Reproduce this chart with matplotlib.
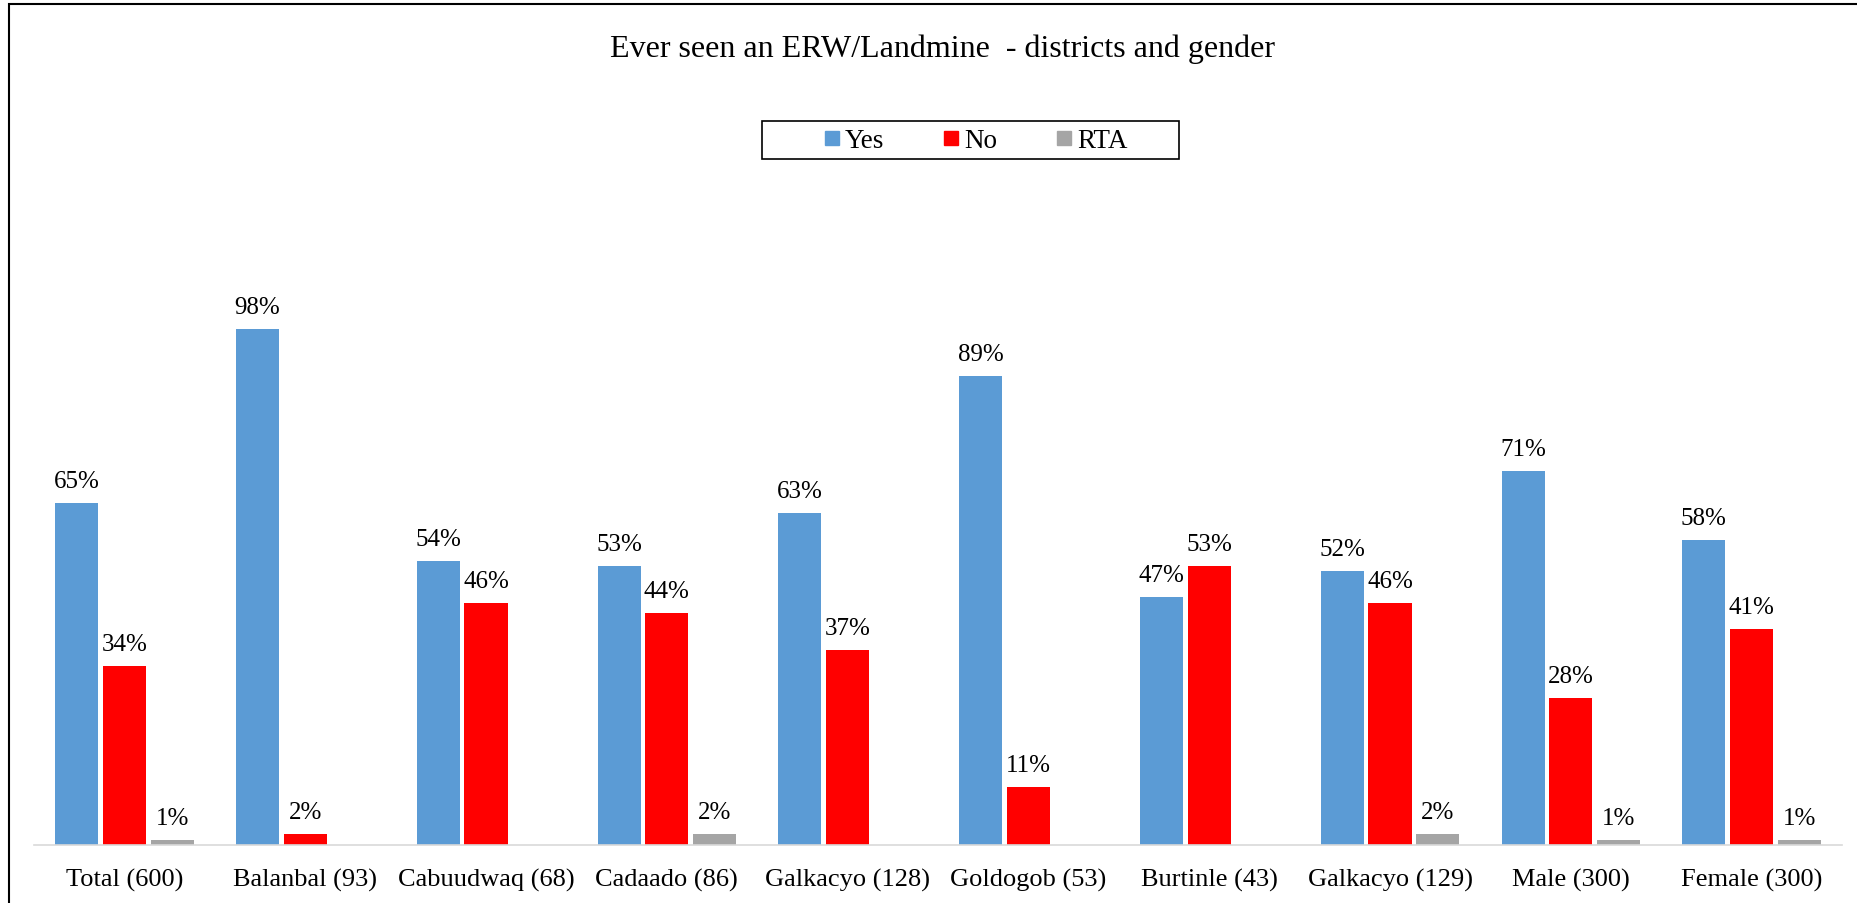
import matplotlib
matplotlib.use("Agg")
import matplotlib.pyplot as plt
from matplotlib.lines import Line2D
from matplotlib.patches import Rectangle
import numpy as np

# Survey results: share of respondents who have ever seen an ERW/landmine
categories = ["Total (600)", "Balanbal (93)", "Cabuudwaq (68)", "Cadaado (86)",
              "Galkacyo (128)", "Goldogob (53)", "Burtinle (43)", "Galkacyo (129)",
              "Male (300)", "Female (300)"]
yes_pct = [65, 98, 54, 53, 63, 89, 47, 52, 71, 58]
no_pct = [34, 2, 46, 44, 37, 11, 53, 46, 28, 41]
rta_pct = [1, 0, 0, 2, 0, 0, 0, 2, 1, 1]

series_names = ["Yes", "No", "RTA"]
series_values = [yes_pct, no_pct, rta_pct]
series_colors = ["#5B9BD5", "#FF0000", "#A5A5A5"]

plt.rcParams["font.family"] = ["Liberation Serif", "DejaVu Serif"]

W, H = 1858, 904
fig = plt.figure(figsize=(W / 100, H / 100), dpi=100)

# plot area in pixel terms
left_px, right_px = 34, 1842
base_px, top_px = 846, 214
ax = fig.add_axes([left_px / W, 1 - base_px / H,
                   (right_px - left_px) / W, (base_px - top_px) / H])

x = np.arange(len(categories))
bar_w = 0.238
step = 0.264
offsets = [-step, 0, step]

for name, vals, color, off in zip(series_names, series_values, series_colors, offsets):
    vals = np.asarray(vals, dtype=float)
    ax.bar(x + off, vals, width=bar_w, color=color, linewidth=0, label=name)
    for xi, v in zip(x + off, vals):
        if v > 0:
            ax.annotate(f"{int(v)}%", xy=(xi, v), xytext=(0, 11.5),
                        textcoords="offset points", ha="center", va="baseline",
                        fontsize=18, color="black")

ax.set_xlim(-0.5, len(categories) - 0.5)
ax.set_ylim(0, 120)
ax.set_xticks(x)
ax.set_xticklabels(categories, fontsize=19)
ax.tick_params(axis="x", length=0, pad=16.5)
ax.set_yticks([])
for side in ["left", "right", "top"]:
    ax.spines[side].set_visible(False)
ax.spines["bottom"].set_color("#D9D9D9")
ax.spines["bottom"].set_linewidth(1.2)

# title
fig.text(943 / W, 1 - 57 / H, "Ever seen an ERW/Landmine  - districts and gender",
         ha="center", va="baseline", fontsize=23)

# legend (entries) with its own box
handles = [Line2D([], [], marker="s", linestyle="none", markersize=10,
                  markerfacecolor=c, markeredgecolor=c, label=n)
           for n, c in zip(series_names, series_colors)]
leg = fig.legend(handles=handles, loc="center", bbox_to_anchor=(975 / W, 1 - 142 / H),
                 ncol=3, fontsize=19.5, frameon=False,
                 handlelength=0.74, handletextpad=0.11, columnspacing=2.1,
                 borderpad=0, borderaxespad=0)
fig.patches.append(Rectangle((762 / W, 1 - 160 / H), (1179 - 762) / W, 38 / H,
                             transform=fig.transFigure, fill=False,
                             edgecolor="black", linewidth=1.2))

# chart frame
fig.patches.append(Rectangle((9 / W, -0.05), 1.2, 1 - 4.5 / H + 0.05,
                             transform=fig.transFigure, fill=False,
                             edgecolor="black", linewidth=1.5, clip_on=False))

fig.savefig("out.png", dpi=100, facecolor="white")
